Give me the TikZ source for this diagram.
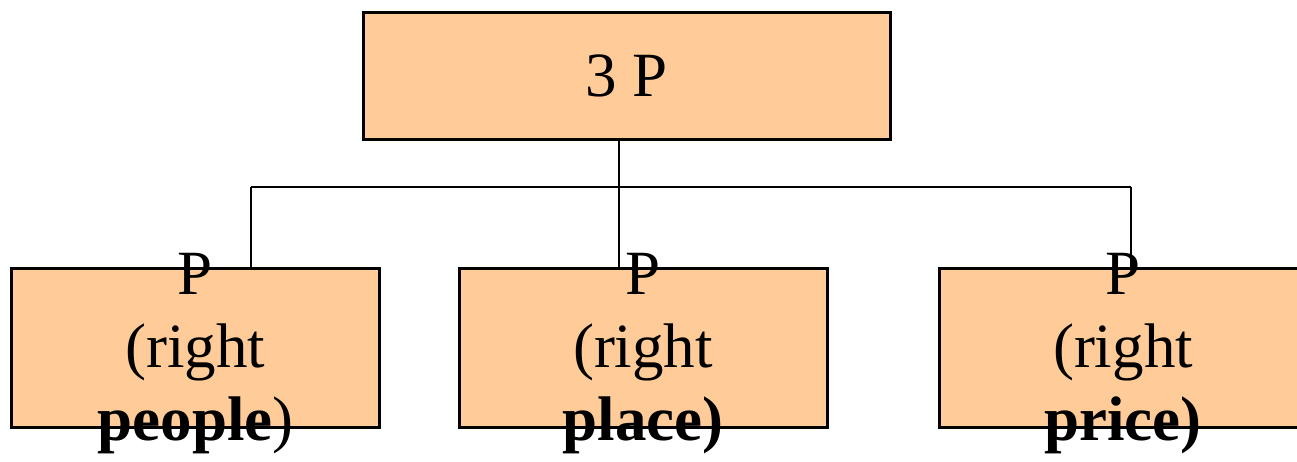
\documentclass[tikz,border=0pt]{standalone}
\usepackage{fontspec}
\setmainfont{Liberation Serif}
\definecolor{peach}{RGB}{255,204,153}
\begin{document}
\begin{tikzpicture}[x=1pt,y=-1pt,
  box/.style={draw=black,line width=3pt,fill=peach,inner sep=0pt,outer sep=0pt,minimum width=368pt,minimum height=159pt},
  topbox/.style={box,minimum width=527pt,minimum height=127pt},
  lbl/.style={align=center,font=\fontsize{63}{73}\selectfont,inner sep=0pt},
  conn/.style={line width=2pt}]
\useasboundingbox (0,0) rectangle (1297,461);
\clip (0,0) rectangle (1297,461);
\node[topbox] (top) at (626.5,75.5) {};
\node[box] (left) at (195.5,348) {};
\node[box] (mid) at (643,348) {};
\node[box] (right) at (1123,348) {};
\coordinate (bus) at (619,187);
\coordinate (cl) at (250.5,187);
\coordinate (cr) at (1130.5,187);
\draw[conn] (top.south -| bus) -- (bus);
\draw[conn] (cl) -- (cr);
\draw[conn] (cl) -- (cl |- left.north);
\draw[conn] (bus) -- (bus |- mid.north);
\draw[conn] (cr) -- (cr |- right.north);
\node[lbl] (toplbl) at (top) {3 P};
\node[lbl] (leftlbl) at (195.5,354) {P\\(right\\\textbf{people})};
\node[lbl] (midlbl) at (643,354) {P\\(right\\\textbf{place)}};
\node[lbl] (rightlbl) at (1123,354) {P\\(right\\\textbf{price)}};
\end{tikzpicture}
\end{document}
